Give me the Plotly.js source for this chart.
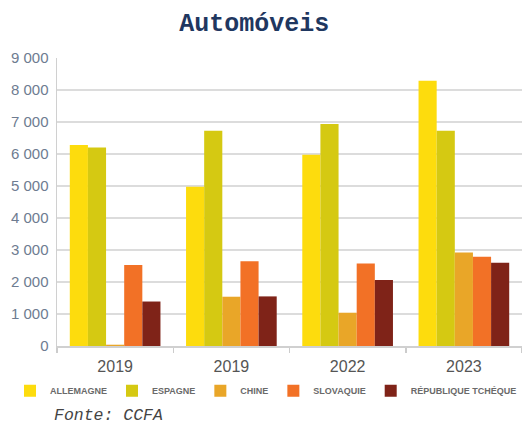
<!DOCTYPE html>
<html>
<head>
<meta charset="utf-8">
<script src="https://cdn.plot.ly/plotly-3.0.1.min.js"></script>
<style>html,body{margin:0;padding:0;background:#fff;}#chart{width:522px;height:425px;}</style>
</head>
<body>
<div id="chart"></div>
<script>
const groupIds = ["g1", "g2", "g3", "g4"];
const yearLabels = ["2019", "2019", "2022", "2023"];
const allemagne = [6280, 4980, 5980, 8290];
const espagne = [6200, 6730, 6940, 6730];
const chine = [40, 1540, 1040, 2920];
const slovaquie = [2530, 2650, 2580, 2790];
const tcheque = [1390, 1550, 2060, 2600];

const seriesNames = ["ALLEMAGNE", "ESPAGNE", "CHINE", "SLOVAQUIE", "RÉPUBLIQUE TCHÉQUE"];
const seriesValues = [allemagne, espagne, chine, slovaquie, tcheque];
const seriesColors = ["#FDDC0D", "#D5C912", "#E9A628", "#F27126", "#7F2318"];

const traces = seriesNames.map((n, i) => ({
  type: "bar",
  name: n,
  x: groupIds,
  y: seriesValues[i],
  marker: {color: seriesColors[i], line: {width: 0}},
  hoverinfo: "skip"
}));

const layout = {
  width: 522, height: 425,
  margin: {l: 57, r: 0, t: 58, b: 79},
  paper_bgcolor: "#ffffff",
  plot_bgcolor: "#ffffff",
  separators: ". ",
  barmode: "group",
  bargap: 0.22,
  bargroupgap: 0,
  title: {
    text: "<b>Automóveis</b>",
    font: {family: "Liberation Mono, Courier New, monospace", size: 25, color: "#1F3760"},
    x: 0.487, xref: "container", xanchor: "center",
    y: 0.948, yref: "container", yanchor: "middle"
  },
  xaxis: {
    type: "category",
    tickvals: groupIds,
    ticktext: yearLabels,
    tickson: "boundaries",
    ticks: "outside", ticklen: 5, tickcolor: "#cccccc", tickwidth: 1.5,
    ticklabelstandoff: 5,
    showline: true, linecolor: "#d0d0d0", linewidth: 1.5,
    showgrid: false, zeroline: false,
    tickfont: {family: "Liberation Sans, Arial, sans-serif", size: 16, color: "#555555"},
    fixedrange: true
  },
  yaxis: {
    range: [0, 9000],
    dtick: 1000,
    tickformat: ",d",
    showline: true, linecolor: "#d0d0d0", linewidth: 1.5,
    gridcolor: "#dcdcdc", gridwidth: 1.5,
    zeroline: false,
    ticks: "", ticklabelstandoff: 4,
    tickfont: {family: "Liberation Sans, Arial, sans-serif", size: 15, color: "#6E7C91"},
    fixedrange: true
  },
  showlegend: true,
  legend: {
    orientation: "h",
    x: -0.055, xanchor: "left",
    y: -0.105, yanchor: "top",
    font: {family: "Liberation Sans, Arial, sans-serif", size: 9, color: "#6a6a6a", weight: "bold"},
    itemwidth: 30,
    traceorder: "normal"
  },
  annotations: [{
    text: "<i>Fonte: CCFA</i>",
    xref: "paper", yref: "paper",
    x: -0.01, xanchor: "left",
    y: -0.243, yanchor: "middle",
    showarrow: false,
    font: {family: "Liberation Mono, Courier New, monospace", size: 16.5, color: "#444444"}
  }]
};

Plotly.newPlot("chart", traces, layout, {displayModeBar: false, staticPlot: true});
</script>
</body>
</html>
